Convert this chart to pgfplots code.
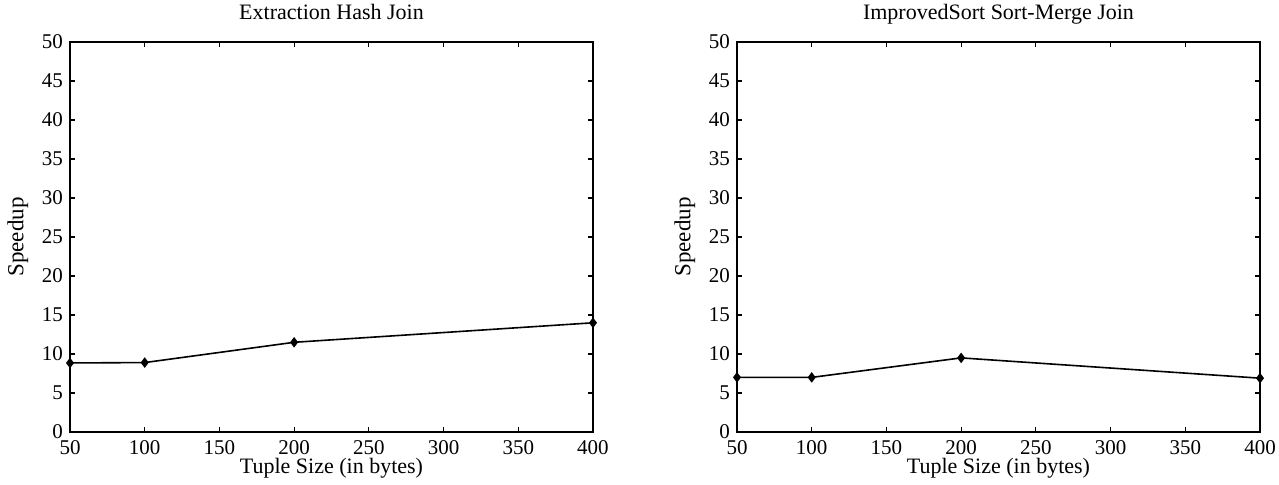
\documentclass[border=0pt]{standalone}
\usepackage{fontspec}
\setmainfont{Liberation Serif}
\usepackage{pgfplots}
\pgfplotsset{compat=1.18}
\pgfplotsset{
  spd/.style={
    scale only axis,
    width=261.5pt, height=195pt,
    xmin=50, xmax=400, ymin=0, ymax=50,
    xtick={50,100,...,400}, ytick={0,5,...,50},
    tick align=inside, major tick length=2.5pt,
    tick style={black, line width=0.6pt},
    axis line style={line width=0.8pt},
    /pgf/number format/assume math mode=true,
    ticklabel style={font=\fontsize{10.5}{12}\selectfont},
    xticklabel style={yshift=-0.5pt},
    xlabel style={font=\fontsize{11}{12}\selectfont, yshift=5pt},
    ylabel style={font=\fontsize{11.5}{12}\selectfont, yshift=0pt},
    title style={font=\fontsize{11}{12}\selectfont, anchor=base, yshift=5pt},
    xlabel={Tuple Size (in bytes)},
    ylabel={Speedup},
  },
  ser/.style={black, line width=0.8pt, mark=diamond*, mark size=2pt, mark options={solid, fill=black}}
}
\begin{document}
\begin{tikzpicture}
\path[use as bounding box] (-35pt,-26.5pt) rectangle (604.5pt,216pt);
\begin{axis}[spd, at={(0,0)}, title={Extraction Hash Join}]
\addplot[ser] coordinates {(50,8.85) (100,8.9) (200,11.5) (400,14.0)};
\end{axis}
\begin{axis}[spd, at={(333.5pt,0)}, title={ImprovedSort Sort-Merge Join}]
\addplot[ser] coordinates {(50,7.0) (100,7.0) (200,9.5) (400,6.9)};
\end{axis}
\end{tikzpicture}
\end{document}
